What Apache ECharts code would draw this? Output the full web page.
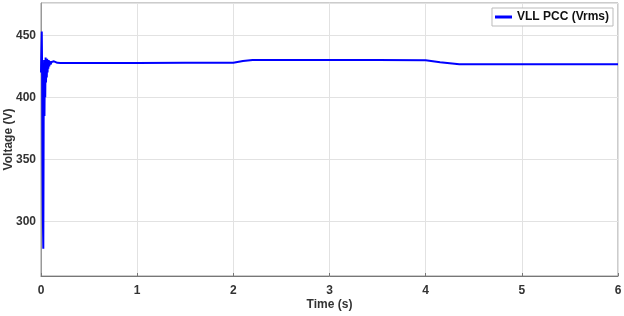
<!DOCTYPE html>
<html>
<head>
<meta charset="utf-8">
<script src="https://cdn.jsdelivr.net/npm/echarts@6/dist/echarts.min.js"></script>
<style>
html,body{margin:0;padding:0;background:#fff;}
#c{width:624px;height:316px;}
</style>
</head>
<body>
<div id="c"></div>
<script>
// Data
var seriesName = 'VLL PCC (Vrms)';
var timeS = [0, 0.004, 0.008, 0.012, 0.016, 0.02, 0.024, 0.028, 0.032, 0.036, 0.04, 0.044, 0.048, 0.052, 0.056, 0.06, 0.064, 0.068, 0.072, 0.076, 0.08, 0.086, 0.092, 0.1, 0.11, 0.12, 0.135, 0.15, 0.17, 0.2, 0.5, 1.0, 1.5, 2.0, 2.1, 2.2, 2.5, 3.0, 3.5, 4.0, 4.15, 4.35, 4.6, 5.0, 5.5, 6.0];
var voltage = [420, 438, 453, 418, 345, 300, 278, 395, 430, 385, 427, 400, 432, 412, 430, 416, 431, 420, 429, 423, 430, 425, 429, 426.5, 428.5, 427.5, 429, 428.6, 427.8, 427.7, 427.7, 427.7, 427.8, 427.8, 429.2, 430, 430, 430, 430, 429.8, 428.3, 426.6, 426.6, 426.6, 426.6, 426.6];
var xTicks = [0, 1, 2, 3, 4, 5, 6];
var yTicks = [300, 350, 400, 450];

var pts = timeS.map(function (t, i) { return [t, voltage[i]]; });

var chart = echarts.init(document.getElementById('c'), null, {renderer: 'canvas'});
var lbl = {color: '#333', fontWeight: 'bold', fontSize: 12, fontFamily: 'Liberation Sans, Arial, sans-serif'};
chart.setOption({
  animation: false,
  backgroundColor: '#fff',
  grid: {left: 41, right: 6, top: 3, bottom: 40, show: true, borderColor: '#999', borderWidth: 1, containLabel: false, outerBoundsMode: 'none'},
  legend: {
    data: [seriesName], right: 11, top: 8, orient: 'horizontal',
    backgroundColor: '#fff', borderColor: '#bbb', borderWidth: 1, padding: [3, 4, 3, 3],
    itemWidth: 17, itemHeight: 3, itemGap: 4, icon: 'rect',
    textStyle: {color: '#111', fontWeight: 'bold', fontSize: 12, fontFamily: 'Liberation Sans, Arial, sans-serif'}
  },
  xAxis: {
    type: 'value', min: xTicks[0], max: xTicks[xTicks.length - 1], interval: 1,
    name: 'Time (s)', nameLocation: 'middle', nameGap: 23, nameMoveOverlap: false,
    nameTextStyle: lbl,
    axisLine: {lineStyle: {color: '#777'}},
    axisTick: {show: true, inside: true, length: 3, lineStyle: {color: '#777'}},
    axisLabel: Object.assign({margin: 9}, lbl),
    splitLine: {show: true, lineStyle: {color: '#e2e2e2', width: 1}}
  },
  yAxis: {
    type: 'value', min: 256, max: 476, splitNumber: 5,
    name: 'Voltage (V)', nameLocation: 'middle', nameGap: 26, nameMoveOverlap: false,
    nameTextStyle: lbl,
    axisLine: {show: true, lineStyle: {color: '#999'}},
    axisTick: {show: false},
    axisLabel: Object.assign({margin: 5, formatter: function (v) { return yTicks.indexOf(v) >= 0 ? String(v) : ''; }}, lbl),
    splitLine: {show: true, lineStyle: {color: '#e2e2e2', width: 1}}
  },
  series: [{
    name: seriesName, type: 'line', data: pts, showSymbol: false, symbol: 'none',
    lineStyle: {color: '#0000ff', width: 2}, itemStyle: {color: '#0000ff'}
  }]
});
</script>
</body>
</html>
